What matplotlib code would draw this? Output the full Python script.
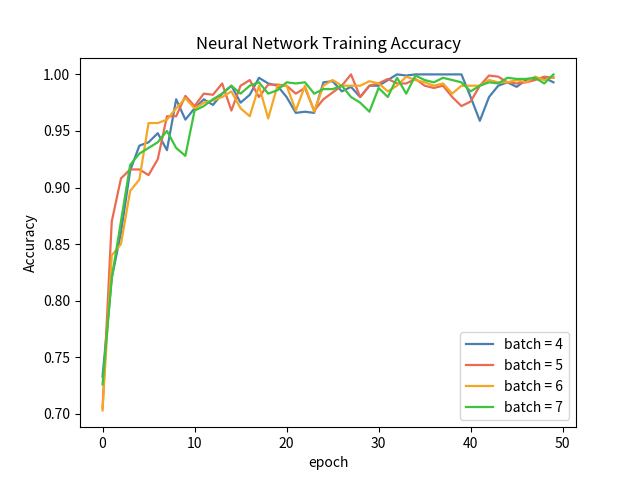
import matplotlib
matplotlib.use("Agg")
import matplotlib.pyplot as plt

plt.rcParams['font.family'] = ['Noto Sans CJK SC', 'DejaVu Sans']

epochs = list(range(50))
acc_b4 = [0.733,0.82,0.86,0.915,0.937,0.94,0.948,0.933,0.978,0.96,0.97,0.978,0.973,0.983,0.99,0.975,0.982,0.997,0.992,0.99,
          0.98,0.966,0.967,0.966,0.993,0.994,0.985,0.989,0.98,0.99,0.99,0.995,1.0,0.999,1.0,1.0,1.0,1.0,1.0,1.0,
          0.98,0.959,0.98,0.99,0.993,0.989,0.995,0.996,0.997,0.993]
acc_b5 = [0.705,0.87,0.908,0.916,0.916,0.911,0.925,0.963,0.963,0.981,0.972,0.983,0.982,0.992,0.968,0.99,0.995,0.98,0.991,0.991,
          0.99,0.983,0.988,0.968,0.978,0.984,0.99,1.0,0.98,0.99,0.992,0.996,0.992,0.992,0.996,0.99,0.988,0.99,0.98,0.972,
          0.976,0.99,0.999,0.998,0.993,0.992,0.993,0.995,0.998,0.997]
acc_b6 = [0.703,0.84,0.85,0.897,0.907,0.957,0.957,0.96,0.97,0.979,0.97,0.975,0.977,0.98,0.985,0.97,0.963,0.99,0.961,0.99,
          0.99,0.968,0.99,0.967,0.99,0.995,0.99,0.99,0.99,0.994,0.992,0.985,0.99,0.998,0.995,0.993,0.99,0.992,0.983,0.99,
          0.99,0.99,0.995,0.993,0.993,0.995,0.993,0.998,0.995,0.998]
acc_b7 = [0.726,0.82,0.87,0.92,0.93,0.935,0.94,0.95,0.935,0.928,0.968,0.972,0.978,0.983,0.99,0.983,0.99,0.993,0.983,0.986,
          0.993,0.992,0.993,0.983,0.987,0.987,0.99,0.98,0.975,0.967,0.988,0.98,0.997,0.983,0.999,0.995,0.993,0.997,0.995,0.993,
          0.985,0.99,0.993,0.992,0.997,0.996,0.996,0.997,0.992,1.0]

fig = plt.figure(figsize=(6.4, 4.8), dpi=100)
plt.plot(epochs, acc_b4, color='#4a7fb0', label='batch = 4', linewidth=1.6)
plt.plot(epochs, acc_b5, color='#ec6a50', label='batch = 5', linewidth=1.6)
plt.plot(epochs, acc_b6, color='#f5a623', label='batch = 6', linewidth=1.6)
plt.plot(epochs, acc_b7, color='#3cc43c', label='batch = 7', linewidth=1.6)
plt.title('Neural Network Training Accuracy')
plt.xlabel('epoch')
plt.ylabel('Accuracy')
plt.legend(loc='lower right')
plt.savefig('out.png')
